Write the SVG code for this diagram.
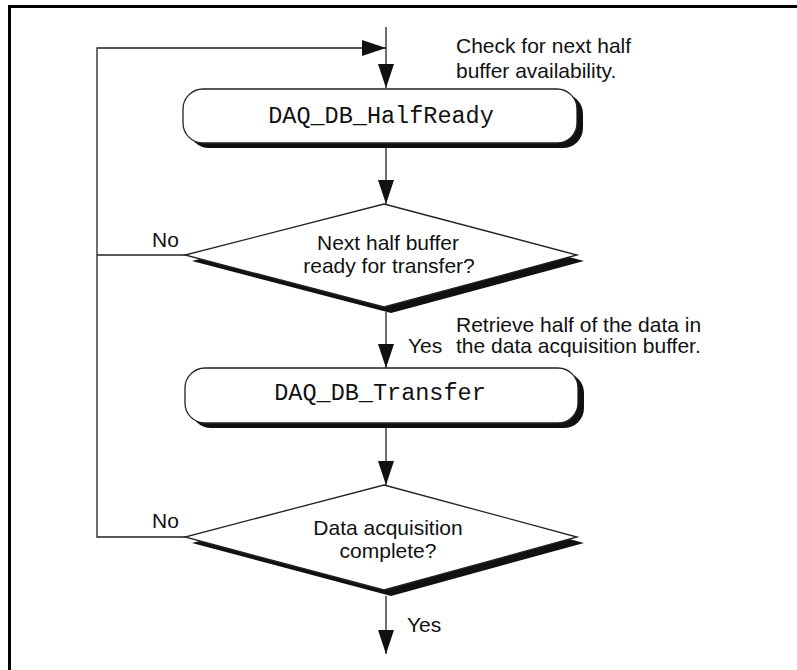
<svg xmlns="http://www.w3.org/2000/svg" width="797" height="670" viewBox="0 0 797 670">
<style>
.ln{fill:none;stroke:#222;stroke-width:1.3}
.shape{fill:#fff;stroke:#222;stroke-width:1.3}
.shadow{fill:#111;stroke:none}
.sans{font-family:"Liberation Sans",Arial,sans-serif;font-size:21px;fill:#111}
.mono{font-family:"Liberation Mono","Courier New",monospace;font-size:23.5px;fill:#111;text-anchor:middle}
.mid{text-anchor:middle}
</style>
<defs>
<marker id="ah" viewBox="0 0 24 16" refX="24" refY="8" markerWidth="24" markerHeight="16" orient="auto" markerUnits="userSpaceOnUse">
<path d="M0,0 L24,8 L0,16 Z" fill="#111"/>
</marker>
</defs>
<rect width="797" height="670" fill="#fff"/>
<path d="M9.5,670 V6.5 H797" fill="none" stroke="#000" stroke-width="3"/>

<g id="connectors">
<path class="ln" d="M386,27 V88" marker-end="url(#ah)"/>
<path class="ln" d="M185,537 H97 V48 H386" marker-end="url(#ah)"/>
<path class="ln" d="M185,255 H97"/>
<path class="ln" d="M386,148 V204" marker-end="url(#ah)"/>
<path class="ln" d="M386,312 V368" marker-end="url(#ah)"/>
<path class="ln" d="M386,428 V485" marker-end="url(#ah)"/>
<path class="ln" d="M386,596 V654" marker-end="url(#ah)"/>
</g>

<g id="note-check">
<text class="sans" x="456" y="53">Check for next half</text>
<text class="sans" x="456" y="78">buffer availability.</text>
</g>

<g id="box-halfready">
<rect class="shadow" x="189" y="94" width="394" height="54" rx="20"/>
<rect class="shape" x="183" y="89" width="394" height="54" rx="20"/>
<text class="mono" x="381" y="123">DAQ_DB_HalfReady</text>
</g>

<g id="dec-halfready">
<polygon class="shadow" points="391,210 584,261 391,313 192,261"/>
<polygon class="shape" points="384,204 577,255 384,307 185,255"/>
<text class="sans mid" x="388" y="250">Next half buffer</text>
<text class="sans mid" x="389" y="273">ready for transfer?</text>
<text class="sans" x="152" y="247">No</text>
</g>

<g id="note-retrieve">
<text class="sans" x="408" y="353">Yes</text>
<text class="sans" x="456" y="332">Retrieve half of the data in</text>
<text class="sans" x="456" y="353">the data acquisition buffer.</text>
</g>

<g id="box-transfer">
<rect class="shadow" x="191" y="373" width="393" height="55" rx="20"/>
<rect class="shape" x="185" y="368" width="393" height="55" rx="20"/>
<text class="mono" x="380" y="400">DAQ_DB_Transfer</text>
</g>

<g id="dec-complete">
<polygon class="shadow" points="391,491 584,543 391,596 192,543"/>
<polygon class="shape" points="384,485 577,537 384,590 185,537"/>
<text class="sans mid" x="388" y="535">Data acquisition</text>
<text class="sans mid" x="388" y="558">complete?</text>
<text class="sans" x="152" y="528">No</text>
<text class="sans" x="407" y="632">Yes</text>
</g>
</svg>
